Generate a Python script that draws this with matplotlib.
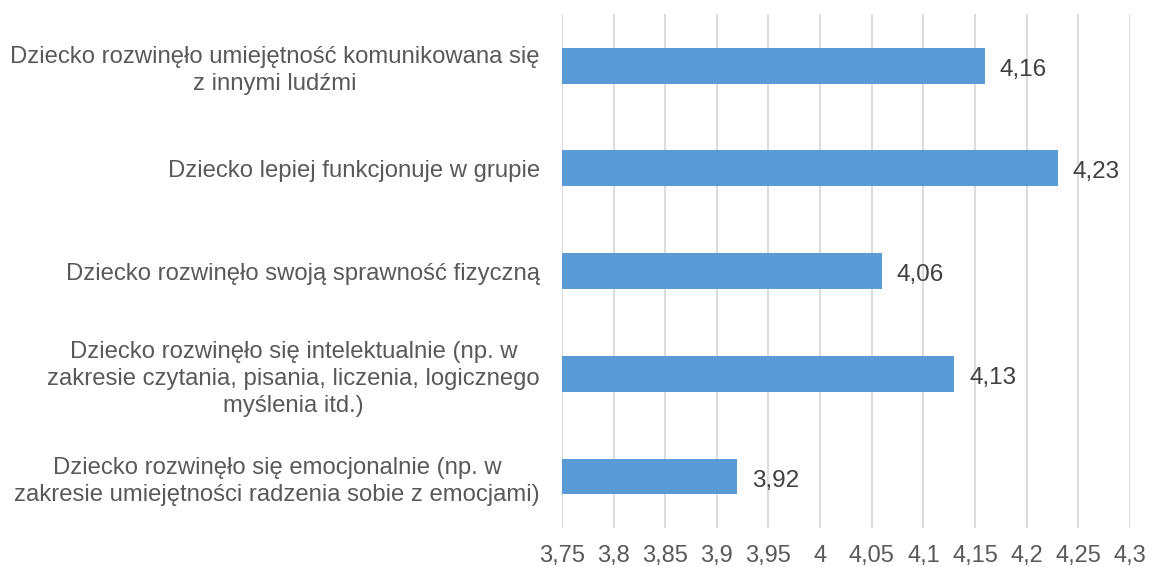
import matplotlib
matplotlib.use("Agg")
import matplotlib.pyplot as plt
import numpy as np

plt.rcParams['font.family'] = ['Liberation Sans', 'DejaVu Sans']

categories = [
    "Dziecko rozwinęło umiejętność komunikowana się\nz innymi ludźmi",
    "Dziecko lepiej funkcjonuje w grupie",
    "Dziecko rozwinęło swoją sprawność fizyczną",
    "Dziecko rozwinęło się intelektualnie (np. w\nzakresie czytania, pisania, liczenia, logicznego\nmyślenia itd.)",
    "Dziecko rozwinęło się emocjonalnie (np. w\nzakresie umiejętności radzenia sobie z emocjami)",
]
values = [4.16, 4.23, 4.06, 4.13, 3.92]
xticks = [3.75, 3.8, 3.85, 3.9, 3.95, 4.0, 4.05, 4.1, 4.15, 4.2, 4.25, 4.3]
xtick_labels = ["3,75", "3,8", "3,85", "3,9", "3,95", "4", "4,05", "4,1", "4,15", "4,2", "4,25", "4,3"]
value_labels = ["4,16", "4,23", "4,06", "4,13", "3,92"]

text_color = "#595959"
fig = plt.figure(figsize=(11.49, 5.67), dpi=100)
ax = fig.add_axes([0.489, 0.069, 0.4945, 0.906])

y = np.arange(len(categories))[::-1]
xmin = 3.75
ax.barh(y, [v - xmin for v in values], left=xmin, height=0.35, color="#5B9BD5", zorder=3)
for yi, v, lab in zip(y, values, value_labels):
    ax.annotate(lab, (v, yi), xytext=(10.5, -3), textcoords='offset points',
                va='center', ha='left', fontsize=17.5, color="#404040")

ax.set_xlim(3.75, 4.3)
ax.set_ylim(-0.5, len(categories) - 0.5)
ax.set_xticks(xticks)
ax.set_xticklabels(xtick_labels, fontsize=17, color=text_color)
ax.set_yticks(y)
ax.set_yticklabels(categories, fontsize=17.2, color=text_color)
for t in ax.get_yticklabels():
    t.set_multialignment('center')
    t.set_linespacing(1.3)
ax.tick_params(axis='both', length=0)
ax.tick_params(axis='y', pad=16)
ax.tick_params(axis='x', pad=12)
ax.grid(axis='x', color="#D9D9D9", linewidth=1.3, zorder=0)
ax.set_axisbelow(True)
for s in ax.spines.values():
    s.set_visible(False)

fig.savefig("out.png", dpi=100)
